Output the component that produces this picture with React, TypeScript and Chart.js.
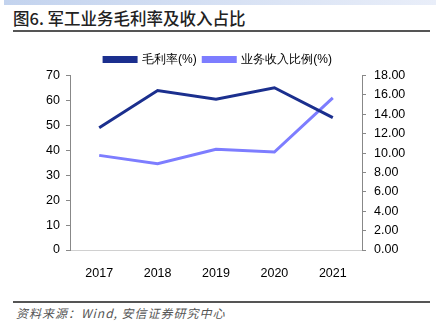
import React, { useEffect, useRef } from "react";
import { Chart, registerables } from "chart.js";

Chart.register(...registerables);

const categories = ["2017", "2018", "2019", "2020", "2021"];
const grossMargin = [49.0, 64.0, 60.5, 65.1, 53.1];
const revenueShare = [9.76, 8.9, 10.4, 10.1, 15.7];
const leftTicks = [0, 70, 10];
const rightTicks = [0, 18, 2];
const seriesNames = ["毛利率(%)", "业务收入比例(%)"];

export default function App() {
  const ref = useRef<HTMLCanvasElement | null>(null);
  useEffect(() => {
    if (!ref.current) return;
    const chart = new Chart(ref.current, {
      type: "line",
      data: {
        labels: categories,
        datasets: [
          {
            label: seriesNames[0],
            data: grossMargin,
            borderColor: "#1b2f8e",
            backgroundColor: "#1b2f8e",
            borderWidth: 3,
            pointRadius: 0,
            yAxisID: "y",
          },
          {
            label: seriesNames[1],
            data: revenueShare,
            borderColor: "#7d7dff",
            backgroundColor: "#7d7dff",
            borderWidth: 3,
            pointRadius: 0,
            yAxisID: "y1",
          },
        ],
      },
      options: {
        animation: false,
        responsive: false,
        layout: { padding: { top: 11, left: 0, right: 0, bottom: 0 } },
        plugins: {
          legend: {
            display: true,
            position: "top",
            labels: {
              boxWidth: 32,
              boxHeight: 4,
              color: "#000",
              padding: 6.5,
              font: { family: "'Liberation Sans', Arial, sans-serif", size: 12 },
            },
          },
          tooltip: { enabled: false },
        },
        scales: {
          x: {
            offset: true,
            grid: { display: false },
            border: { display: true, color: "#d0d0d0" },
            ticks: {
              color: "#000",
              padding: 8,
              font: { family: "'Liberation Sans', Arial, sans-serif", size: 12.5 },
            },
            afterFit: (s: any) => {
              s.height = 36;
            },
          },
          y: {
            position: "left",
            min: leftTicks[0],
            max: leftTicks[1],
            ticks: {
              stepSize: leftTicks[2],
              color: "#000",
              padding: 6,
              font: { family: "'Liberation Sans', Arial, sans-serif", size: 12.5 },
            },
            grid: { display: true, drawOnChartArea: false, drawTicks: true, tickLength: 4, color: "#888" },
            border: { display: true, color: "#888" },
            afterFit: (s: any) => {
              s.width = 70;
            },
          },
          y1: {
            position: "right",
            min: rightTicks[0],
            max: rightTicks[1],
            ticks: {
              stepSize: rightTicks[2],
              color: "#000",
              padding: 8,
              callback: (v: any) => Number(v).toFixed(2),
              font: { family: "'Liberation Sans', Arial, sans-serif", size: 12.5 },
            },
            grid: { display: true, drawOnChartArea: false, drawTicks: true, tickLength: 4, color: "#888" },
            border: { display: true, color: "#888" },
            afterFit: (s: any) => {
              s.width = 74;
            },
          },
        },
      },
    });
    return () => chart.destroy();
  }, []);

  return (
    <div style={{ position: "fixed", left: 0, top: 0, width: 436, height: 331, background: "#fff", overflow: "hidden" }}>
      <div
        style={{
          position: "absolute",
          left: 4,
          top: 0,
          width: 432,
          height: 5,
          background: "linear-gradient(to right, #c3d3ee, #e9eef9)",
        }}
      />
      <div
        style={{
          position: "absolute",
          left: 13,
          top: 7,
          fontFamily: "'Noto Sans CJK SC', sans-serif",
          fontSize: 16.5,
          fontWeight: 500,
          color: "#222",
          lineHeight: "22px",
          whiteSpace: "nowrap",
        }}
      >
        图6. 军工业务毛利率及收入占比
      </div>
      <div style={{ position: "absolute", left: 13, top: 30, width: 417, height: 2, background: "#555" }} />
      <canvas ref={ref} width={436} height={250} style={{ position: "absolute", left: 0, top: 36, width: 436, height: 250 }} />
      <div style={{ position: "absolute", left: 13, top: 301, width: 417, height: 2, background: "#555" }} />
      <div
        style={{
          position: "absolute",
          left: 16,
          top: 305,
          fontFamily: "'Noto Sans CJK SC', sans-serif",
          fontSize: 12,
          fontStyle: "italic",
          color: "#555",
          lineHeight: "16px",
          letterSpacing: 1,
          whiteSpace: "nowrap",
        }}
      >
        资料来源：Wind, 安信证券研究中心
      </div>
    </div>
  );
}
